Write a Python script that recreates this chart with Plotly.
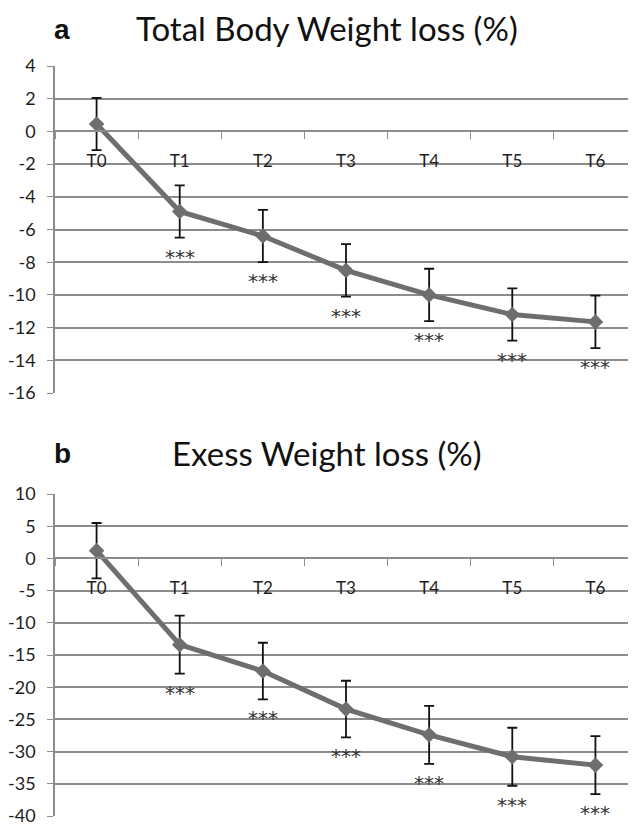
import plotly.graph_objects as go

# ---- data ----
timepoints = ["T0", "T1", "T2", "T3", "T4", "T5", "T6"]
tbwl_mean = [0.45, -4.9, -6.4, -8.5, -10.0, -11.2, -11.65]
tbwl_err = [1.6, 1.6, 1.6, 1.6, 1.6, 1.6, 1.6]
ewl_mean = [1.2, -13.4, -17.5, -23.4, -27.4, -30.8, -32.1]
ewl_err = [4.3, 4.5, 4.4, 4.4, 4.5, 4.5, 4.5]
significance = ["", "***", "***", "***", "***", "***", "***"]

title_a = "Total Body Weight loss (%)"
title_b = "Exess Weight loss (%)"
yticks_a = [4, 2, 0, -2, -4, -6, -8, -10, -12, -14, -16]
yticks_b = [10, 5, 0, -5, -10, -15, -20, -25, -30, -35, -40]

W, H = 636, 824
OFF = 8  # page body margin offset
GRID = "#8c8c8c"
LINE = "#6e6e6e"
TXT = "#1e1e1e"
FONT = "Lato"


def py(y):
    return 1 - (y - OFF) / H


def px(x):
    return (x - OFF) / W


dom_a = [py(393), py(66)]
dom_b = [py(816), py(494)]
xdom = [px(55), min(1.0, px(637))]
range_a = [min(yticks_a), max(yticks_a)]
range_b = [min(yticks_b), max(yticks_b)]


def zero_pos(dom, rng):
    return dom[0] + (0 - rng[0]) / (rng[1] - rng[0]) * (dom[1] - dom[0])


fig = go.Figure()

for mean, err, xa, ya in [(tbwl_mean, tbwl_err, "x", "y"), (ewl_mean, ewl_err, "x2", "y2")]:
    fig.add_trace(go.Scatter(
        x=timepoints, y=mean, xaxis=xa, yaxis=ya,
        mode="lines+markers",
        line=dict(color=LINE, width=5),
        marker=dict(symbol="diamond", size=12, color=LINE),
        error_y=dict(type="data", array=err, visible=True, color="#111111", thickness=1.8, width=5),
        showlegend=False, hoverinfo="skip",
    ))

xaxis_common = dict(
    type="category", range=[-0.5, 6.5], domain=xdom, anchor="free",
    showline=True, linecolor=GRID, linewidth=1.5,
    ticks="outside", tickson="boundaries", ticklen=7, tickcolor=GRID, tickwidth=1.2,
    showgrid=False, zeroline=False, automargin=False,
    tickfont=dict(family=FONT, size=17, color=TXT),
    ticklabelstandoff=14,
    fixedrange=True,
)
yaxis_common = dict(
    showline=True, linecolor=GRID, linewidth=1.5,
    showgrid=True, gridcolor=GRID, gridwidth=1.5,
    ticks="outside", ticklen=6, tickcolor=GRID, tickwidth=1.2,
    zeroline=False, automargin=False,
    tickfont=dict(family=FONT, size=18, color=TXT),
    ticklabelstandoff=8,
    tickmode="array",
    fixedrange=True,
)

fig.update_layout(
    width=W, height=H,
    margin=dict(l=0, r=0, t=0, b=0, autoexpand=False),
    paper_bgcolor="white", plot_bgcolor="white",
    xaxis=dict(xaxis_common, position=zero_pos(dom_a, range_a)),
    yaxis=dict(yaxis_common, domain=dom_a, range=range_a, anchor="x",
               tickvals=yticks_a, ticktext=[str(v) for v in yticks_a]),
    xaxis2=dict(xaxis_common, position=zero_pos(dom_b, range_b)),
    yaxis2=dict(yaxis_common, domain=dom_b, range=range_b, anchor="x2",
                tickvals=yticks_b, ticktext=[str(v) for v in yticks_b]),
)

annotations = [
    dict(text="<b>a</b>", x=px(62), y=py(29), xref="paper", yref="paper", showarrow=False,
         font=dict(family="Liberation Sans", size=28, color="#111111"), xanchor="center", yanchor="middle"),
    dict(text=title_a, x=px(327), y=py(28), xref="paper", yref="paper", showarrow=False,
         font=dict(family=FONT, size=33, color="#111111"), xanchor="center", yanchor="middle"),
    dict(text="<b>b</b>", x=px(62), y=py(453), xref="paper", yref="paper", showarrow=False,
         font=dict(family="Liberation Sans", size=28, color="#111111"), xanchor="center", yanchor="middle"),
    dict(text=title_b, x=px(327), y=py(453), xref="paper", yref="paper", showarrow=False,
         font=dict(family=FONT, size=33, color="#111111"), xanchor="center", yanchor="middle"),
]

for mean, err, xr, yr in [(tbwl_mean, tbwl_err, "x", "y"), (ewl_mean, ewl_err, "x2", "y2")]:
    for t, m, e, s in zip(timepoints, mean, err, significance):
        if s:
            annotations.append(dict(
                text=s, x=t, y=m - e, xref=xr, yref=yr, showarrow=False,
                xanchor="center", yanchor="middle", yshift=-19,
                font=dict(family="DejaVu Sans", size=20, color="#333333"),
            ))

fig.update_layout(annotations=annotations)
fig.write_html("out.html")
